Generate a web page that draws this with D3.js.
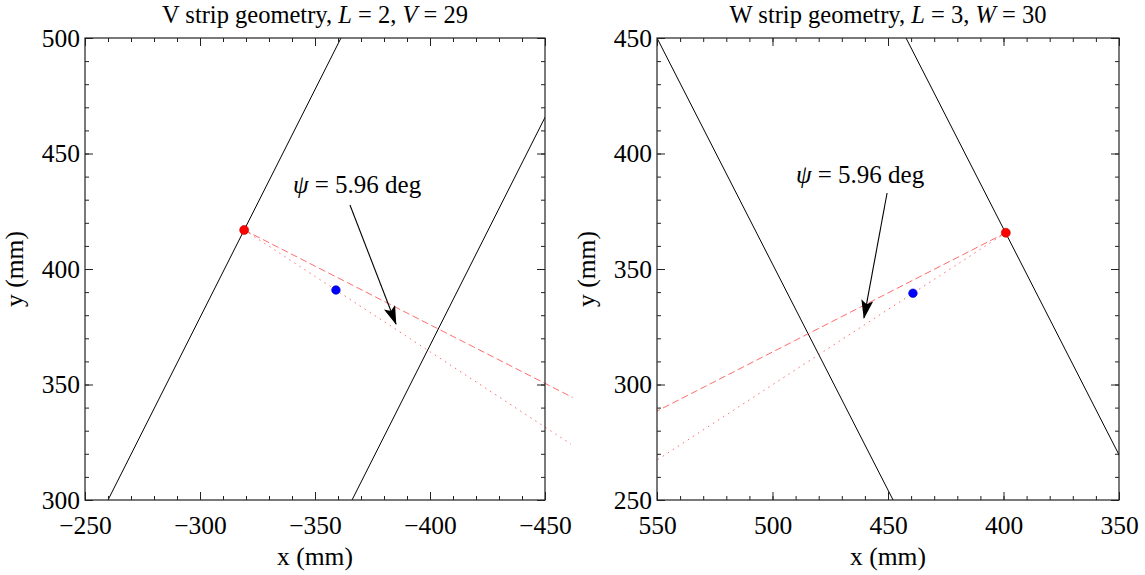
<!DOCTYPE html>
<html>
<head>
<meta charset="utf-8">
<script src="https://cdn.jsdelivr.net/npm/d3@7"></script>
<style>
    body { margin: 0; background: #fff; }
    text { font-family: "Liberation Serif", "Times New Roman", serif; fill: #000; }
</style>
</head>
<body>
<div id="chart"></div>
<script>
'use strict';

// ---- data (mm) ----
var vXDomain = [-250, -450],
    vYDomain = [300, 500];
var vXMajor = [-250, -300, -350, -400, -450],
    vYMajor = [300, 350, 400, 450, 500];
var vStrips = [
    [[-260.0, 300], [-361.3, 500]],
    [[-366.1, 300], [-467.4, 500]]
];
var vHit = [-319.2, 416.9],
    vTrack = [-359.1, 390.9];
var vPerp = [[-319.2, 416.9], [-462.0, 344.4]],
    vThrough = [[-319.2, 416.9], [-461.3, 324.2]];
var vNote = [[-368.3, 432.9], [-365.2, 427.7], [-385.2, 376.2]];

var wXDomain = [550, 350],
    wYDomain = [250, 450];
var wXMajor = [550, 500, 450, 400, 350],
    wYMajor = [250, 300, 350, 400, 450];
var wStrips = [
    [[550.0, 450], [447.8, 250]],
    [[442.2, 450], [340.0, 250]]
];
var wHit = [399.0, 365.7],
    wTrack = [439.2, 339.5];
var wPerp = [[399.0, 365.7], [550, 288.5]],
    wThrough = [[399.0, 365.7], [550, 267.3]];
var wNote = [[462.1, 387.2], [450.4, 382.9], [460.4, 328.8]];

var psiText = '5.96 deg';

var width = 1145,
    height = 575;

var serif = '"Liberation Serif", "Times New Roman", serif';

var svg = d3.select('#chart').append('svg')
    .attr('width', width)
    .attr('height', height);

var defs = svg.append('defs');
defs.append('marker')
    .attr('id', 'head')
    .attr('viewBox', '0 0 19 12')
    .attr('refX', 18)
    .attr('refY', 6)
    .attr('markerWidth', 19)
    .attr('markerHeight', 12)
    .attr('markerUnits', 'userSpaceOnUse')
    .attr('orient', 'auto')
    .append('path')
    .attr('d', 'M0,0 L19,6 L0,12 L4,6 Z')
    .attr('fill', '#000');

function fmt(d) {
    return d < 0 ? '\u2212' + Math.abs(d) : String(d);
}

function minors(domain) {
    var lo = Math.min(domain[0], domain[1]),
        hi = Math.max(domain[0], domain[1]);
    return d3.range(lo, hi + 1, 10);
}

function drawPanel(opt) {
    var x = d3.scaleLinear().domain(opt.xDomain).range([opt.left, opt.right]);
    var y = d3.scaleLinear().domain(opt.yDomain).range([opt.bottom, opt.top]);
    var w = opt.right - opt.left,
        h = opt.bottom - opt.top;

    var g = svg.append('g');

    var clipId = 'clip' + opt.id;
    defs.append('clipPath').attr('id', clipId)
        .append('rect')
        .attr('x', opt.left).attr('y', opt.top)
        .attr('width', w).attr('height', h);

    // strip edges
    var line = d3.line().x(function(d) { return x(d[0]); }).y(function(d) { return y(d[1]); });
    g.append('g').attr('clip-path', 'url(#' + clipId + ')')
        .selectAll('path')
        .data(opt.strips)
        .enter()
        .append('path')
        .attr('d', line)
        .attr('fill', 'none')
        .attr('stroke', '#000')
        .attr('stroke-width', 1);

    // track lines (not clipped)
    g.append('path').attr('d', line(opt.perp))
        .attr('fill', 'none')
        .attr('stroke', '#ff5a5a')
        .attr('stroke-width', 0.9)
        .attr('stroke-dasharray', '7,3.5');
    g.append('path').attr('d', line(opt.through))
        .attr('fill', 'none')
        .attr('stroke', '#ff5a5a')
        .attr('stroke-width', 0.9)
        .attr('stroke-dasharray', '1.5,4.5');

    g.append('circle')
        .attr('cx', x(opt.hit[0])).attr('cy', y(opt.hit[1]))
        .attr('r', 4.5)
        .attr('fill', '#ff0000')
        .attr('stroke', '#c00000')
        .attr('stroke-width', 0.6);
    g.append('circle')
        .attr('cx', x(opt.track[0])).attr('cy', y(opt.track[1]))
        .attr('r', 4.3)
        .attr('fill', '#0000ff')
        .attr('stroke', '#0000c0')
        .attr('stroke-width', 0.6);

    // annotation
    var note = g.append('text')
        .attr('x', x(opt.note[0][0]))
        .attr('y', y(opt.note[0][1]))
        .attr('text-anchor', 'middle')
        .attr('font-family', serif)
        .style('font-size', '25px');
    note.append('tspan').style('font-style', 'italic').text('\u03c8');
    note.append('tspan').text(' = ' + psiText);
    g.append('line')
        .attr('x1', x(opt.note[1][0])).attr('y1', y(opt.note[1][1]))
        .attr('x2', x(opt.note[2][0])).attr('y2', y(opt.note[2][1]))
        .attr('stroke', '#000')
        .attr('stroke-width', 1.1)
        .attr('marker-end', 'url(#head)');

    // axes: major ticks with labels, minor ticks without, all pointing inward
    var xMinor = minors(opt.xDomain),
        yMinor = minors(opt.yDomain);
    var gens = [d3.axisBottom, d3.axisTop, d3.axisLeft, d3.axisRight];
    var shifts = [
        'translate(0,' + opt.bottom + ')',
        'translate(0,' + opt.top + ')',
        'translate(' + opt.left + ',0)',
        'translate(' + opt.right + ',0)'
    ];

    gens.forEach(function(gen, i) {
        var isX = i < 2,
            sc = isX ? x : y,
            lab = (i === 0 || i === 2);

        g.append('g').attr('transform', shifts[i])
            .call(gen(sc).tickValues(isX ? xMinor : yMinor).tickSize(-4).tickFormat(''))
            .call(function(s) { s.select('.domain').remove(); s.selectAll('line').attr('stroke', '#222'); });

        var mg = g.append('g').attr('transform', shifts[i])
            .call(gen(sc).tickValues(isX ? opt.xMajor : opt.yMajor)
                .tickSize(-8)
                .tickPadding(isX ? 16 : 5)
                .tickFormat(lab ? fmt : ''));
        mg.attr('font-family', serif).attr('font-size', 25);
        mg.select('.domain').remove();
        mg.selectAll('line').attr('stroke', '#222');
        mg.selectAll('text')
            .style('font-family', serif)
            .style('font-size', '25.5px');
    });

    g.append('rect')
        .attr('x', opt.left).attr('y', opt.top)
        .attr('width', w).attr('height', h)
        .attr('fill', 'none')
        .attr('stroke', '#222')
        .attr('stroke-width', 1.2);

    // titles
    var title = g.append('text')
        .attr('x', (opt.left + opt.right) / 2)
        .attr('y', 22.5)
        .attr('text-anchor', 'middle')
        .attr('font-family', serif)
        .style('font-size', '24.5px');
    opt.title.forEach(function(p) {
        title.append('tspan').style('font-style', p[1] ? 'italic' : 'normal').text(p[0]);
    });

    g.append('text')
        .attr('x', (opt.left + opt.right) / 2)
        .attr('y', 565)
        .attr('text-anchor', 'middle')
        .attr('font-family', serif)
        .style('font-size', '25.5px')
        .text('x (mm)');

    g.append('text')
        .attr('transform', 'translate(' + (opt.left - 62) + ',' + ((opt.top + opt.bottom) / 2) + ') rotate(-90)')
        .attr('text-anchor', 'middle')
        .attr('font-family', serif)
        .style('font-size', '25.5px')
        .text('y (mm)');
}

drawPanel({
    id: 'v', left: 85, right: 545, top: 38, bottom: 500,
    xDomain: vXDomain, yDomain: vYDomain, xMajor: vXMajor, yMajor: vYMajor,
    strips: vStrips, hit: vHit, track: vTrack, perp: vPerp, through: vThrough, note: vNote,
    title: [['V strip geometry, ', false], ['L', true], [' = 2, ', false], ['V', true], [' = 29', false]]
});

drawPanel({
    id: 'w', left: 657, right: 1119, top: 38, bottom: 500,
    xDomain: wXDomain, yDomain: wYDomain, xMajor: wXMajor, yMajor: wYMajor,
    strips: wStrips, hit: wHit, track: wTrack, perp: wPerp, through: wThrough, note: wNote,
    title: [['W strip geometry, ', false], ['L', true], [' = 3, ', false], ['W', true], [' = 30', false]]
});
</script>
</body>
</html>
